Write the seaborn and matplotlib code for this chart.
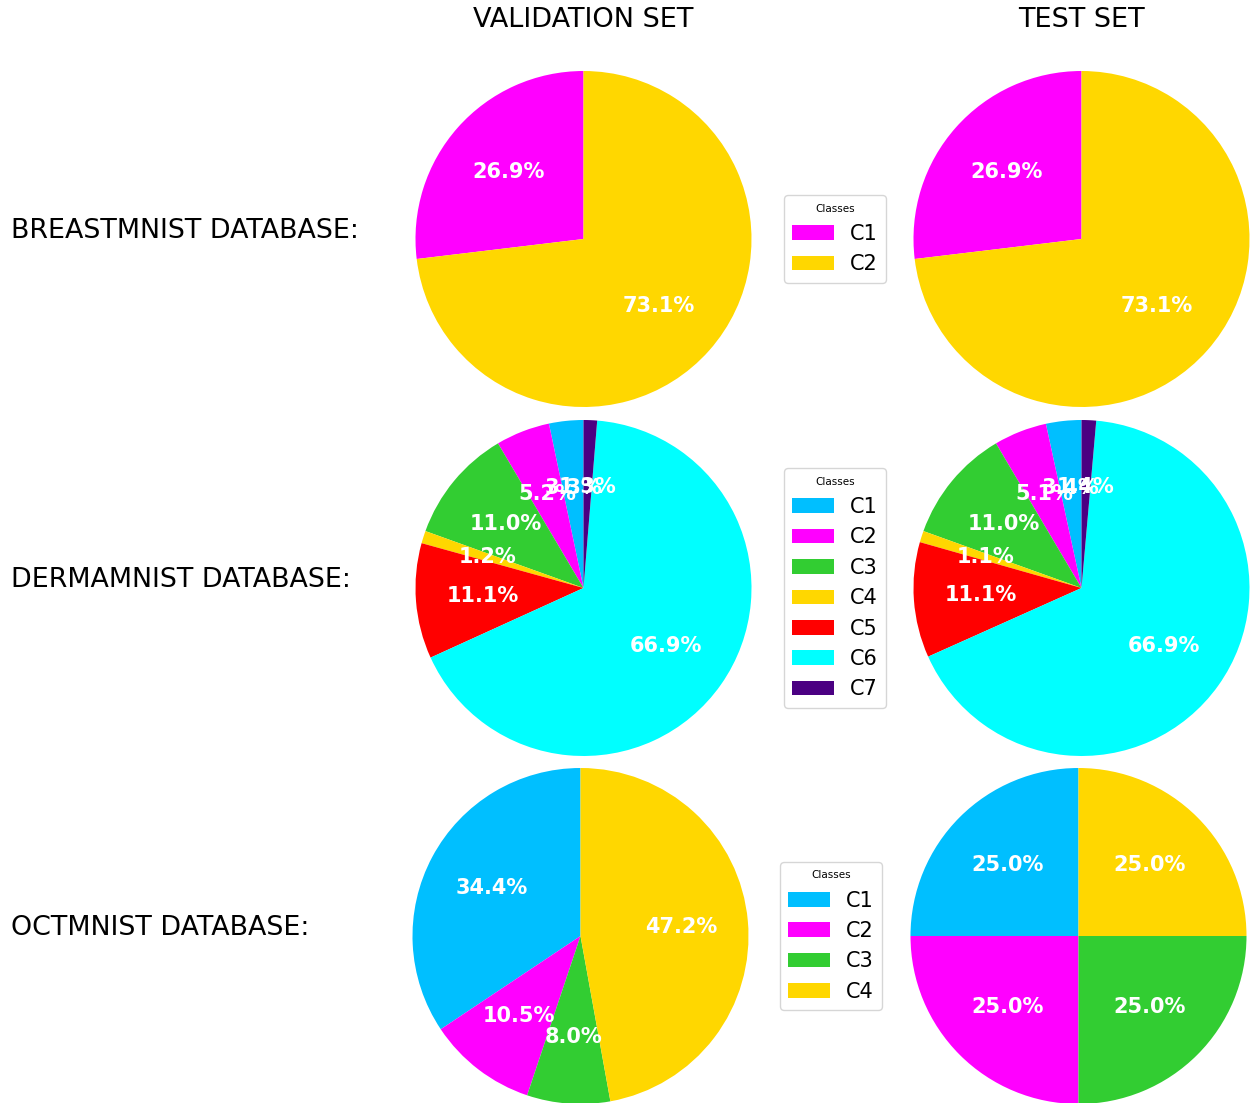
import matplotlib
matplotlib.use("Agg")
import matplotlib.pyplot as plt
import seaborn as sns

sns.set_theme(style="white")
plt.rcParams['font.family'] = ['DejaVu Sans']
plt.rcParams['text.color'] = 'black'

datasets = ["BREASTMNIST DATABASE:", "DERMAMNIST DATABASE:", "OCTMNIST DATABASE:"]
columns = ["VALIDATION SET", "TEST SET"]

breast_val = [26.9, 73.1]
breast_test = [26.9, 73.1]
derma_val = [3.3, 5.2, 11.0, 1.2, 11.1, 66.9, 1.3]
derma_test = [3.4, 5.1, 11.0, 1.1, 11.1, 66.9, 1.4]
oct_val = [34.4, 10.5, 8.0, 47.2]
oct_test = [25.0, 25.0, 25.0, 25.0]

breast_colors = ["magenta", "gold"]
derma_colors = ["deepskyblue", "magenta", "limegreen", "gold", "red", "cyan", "indigo"]
oct_colors = ["deepskyblue", "magenta", "limegreen", "gold"]

rows = [
    (breast_val, breast_test, breast_colors),
    (derma_val, derma_test, derma_colors),
    (oct_val, oct_test, oct_colors),
]

W, H = 1250, 1103
fig = plt.figure(figsize=(W / 100, H / 100), dpi=100)

# pie centres in pixels (x for val/test, y per row)
centers_x = [(583.5, 1081.5), (583.5, 1081.5), (580.5, 1078.5)]
centers_y = [239, 588, 936]
legend_x = [835, 835, 831]
r = 168


def pie_axes(cx, cy):
    return fig.add_axes([(cx - r) / W, 1 - (cy + r) / H, 2 * r / W, 2 * r / H])


for i, (val, test, colors) in enumerate(rows):
    cy = centers_y[i]
    wedges = None
    for j, vals in enumerate([val, test]):
        ax = pie_axes(centers_x[i][j], cy)
        w, _, autotexts = ax.pie(vals, colors=colors, startangle=90,
                                 autopct="%1.1f%%", pctdistance=0.6,
                                 wedgeprops=dict(linewidth=0, edgecolor="none"),
                                 textprops=dict(color="white", fontsize=15,
                                                fontweight="bold"))
        ax.set_xlim(-1, 1)
        ax.set_ylim(-1, 1)
        ax.axis("off")
        if wedges is None:
            wedges = w
    labels = [f"C{k + 1}" for k in range(len(val))]
    fig.legend(wedges, labels, title="Classes", loc="center",
               bbox_to_anchor=(legend_x[i] / W, 1 - cy / H),
               bbox_transform=fig.transFigure, fontsize=15, title_fontsize=7.5,
               frameon=True)
    fig.text(11 / W, 1 - (cy - 8) / H, datasets[i], fontsize=19.4,
             ha="left", va="center", color="black")

fig.text(583.5 / W, 1 - 20 / H, columns[0], fontsize=19.5, ha="center", va="center")
fig.text(1081.5 / W, 1 - 20 / H, columns[1], fontsize=19.5, ha="center", va="center")

fig.savefig("out.png", dpi=100, facecolor="white")
